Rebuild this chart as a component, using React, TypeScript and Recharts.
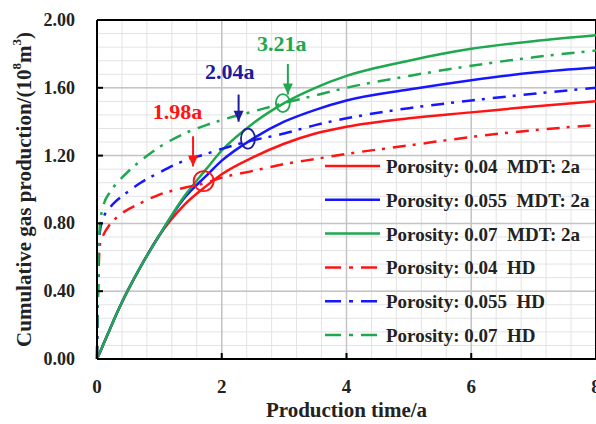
import React from "react";
import { LineChart, Line, XAxis, YAxis, CartesianGrid, ReferenceLine, ReferenceDot, Legend } from "recharts";

// production time (a)
const time = [0, 0.02, 0.05, 0.1, 0.2, 0.3, 0.4, 0.7, 1.0, 1.4, 1.75, 2.0, 2.5, 3.0, 3.5, 4, 5, 6, 7, 8];

// cumulative gas production (10^8 m3), MDT: 2a
const mdt004 = [0, 0.017, 0.042, 0.085, 0.17, 0.255, 0.335, 0.545, 0.73, 0.91, 1.02, 1.09, 1.19, 1.27, 1.33, 1.37, 1.42, 1.455, 1.49, 1.52];
const mdt0055 = [0, 0.017, 0.042, 0.085, 0.17, 0.255, 0.335, 0.545, 0.73, 0.95, 1.08, 1.17, 1.3, 1.4, 1.47, 1.525, 1.59, 1.645, 1.69, 1.72];
const mdt007 = [0, 0.017, 0.042, 0.085, 0.17, 0.255, 0.335, 0.545, 0.73, 0.96, 1.12, 1.23, 1.39, 1.51, 1.6, 1.67, 1.76, 1.83, 1.875, 1.91];

// HD
const hd004 = [0, 0.45, 0.68, 0.73, 0.79, 0.83, 0.86, 0.92, 0.97, 1.01, 1.04, 1.07, 1.11, 1.15, 1.18, 1.21, 1.26, 1.31, 1.35, 1.38];
const hd0055 = [0, 0.5, 0.76, 0.83, 0.89, 0.93, 0.96, 1.04, 1.1, 1.17, 1.21, 1.24, 1.29, 1.33, 1.38, 1.42, 1.48, 1.525, 1.565, 1.6];
const hd007 = [0, 0.55, 0.8, 0.9, 0.98, 1.03, 1.07, 1.17, 1.25, 1.33, 1.38, 1.41, 1.46, 1.51, 1.555, 1.6, 1.67, 1.73, 1.78, 1.82];

const xMajor = [0, 2, 4, 6, 8];
const xLabels = ["0", "2", "4", "6", "8"];
const yMajor = [0, 0.4, 0.8, 1.2, 1.6, 2.0];
const yLabels = ["0.00", "0.40", "0.80", "1.20", "1.60", "2.00"];

const seriesKeys = ["mdt004", "mdt0055", "mdt007", "hd004", "hd0055", "hd007"];
const seriesNames = [
  "Porosity: 0.04  MDT: 2a",
  "Porosity: 0.055  MDT: 2a",
  "Porosity: 0.07  MDT: 2a",
  "Porosity: 0.04  HD",
  "Porosity: 0.055  HD",
  "Porosity: 0.07  HD",
];

// break-even markers
const markLabels = ["1.98a", "2.04a", "3.21a"];
const markT = [1.71, 2.42, 2.98];
const markV = [1.05, 1.3, 1.51];
const arrowT = [1.54, 2.27, 3.06];
const arrowTop = [1.314, 1.56, 1.74];
const arrowTip = [1.136, 1.4, 1.56];
const labelT = [1.29, 2.13, 2.96];
const labelV = [1.414, 1.65, 1.82];

const RED = "#ff1414";
const BLUE = "#1717ff";
const GREEN = "#1fa84f";
const seriesColors = [RED, BLUE, GREEN, RED, BLUE, GREEN];
const markColors = [RED, "#1c1c9c", GREEN];
const markRx = [10, 7, 7];
const markRy = [10, 10, 9];
const DASH = "13 7 3 8";
const FONT = "'Liberation Serif', 'Times New Roman', serif";

const data = time.map((t, i) => ({
  t,
  mdt004: mdt004[i],
  mdt0055: mdt0055[i],
  mdt007: mdt007[i],
  hd004: hd004[i],
  hd0055: hd0055[i],
  hd007: hd007[i],
}));

const xMinor = Array.from({ length: 21 }, (_, i) => Math.round(i * 4) / 10);
const yMinor = Array.from({ length: 26 }, (_, i) => Math.round(i * 8) / 100);

const near = (a: number, b: number) => Math.abs(a - b) < 1e-6;

const XTick = (props: any) => {
  const { x, y, payload } = props;
  const idx = xMajor.findIndex((v) => near(v, payload.value));
  if (idx < 0) return <g />;
  return (
    <g>
      {idx > 0 && idx < xMajor.length - 1 && (
        <line x1={x} x2={x} y1={y} y2={y - 6} stroke="#000" strokeWidth={2} />
      )}
      <text x={x} y={y + 34} textAnchor="middle" fontFamily={FONT} fontWeight={700} fontSize={19} fill="#222">
        {xLabels[idx]}
      </text>
    </g>
  );
};

const YTick = (props: any) => {
  const { x, y, payload } = props;
  const idx = yMajor.findIndex((v) => near(v, payload.value));
  if (idx < 0) return <g />;
  return (
    <g>
      {idx > 0 && idx < yMajor.length - 1 && (
        <line x1={x} x2={x + 6} y1={y} y2={y} stroke="#000" strokeWidth={2} />
      )}
      <text x={x - 22} y={y + 6} textAnchor="end" fontFamily={FONT} fontWeight={700} fontSize={18} fill="#222">
        {yLabels[idx]}
      </text>
    </g>
  );
};

const YTitle = (props: any) => {
  const vb = props.viewBox;
  const cx = vb.x + 24;
  const cy = vb.y + vb.height / 2;
  return (
    <text
      x={cx}
      y={cy}
      transform={`rotate(-90 ${cx} ${cy})`}
      textAnchor="middle"
      dominantBaseline="central"
      fontFamily={FONT}
      fontWeight={700}
      fontSize={21}
      fill="#222"
    >
      Cumulative gas production/(10
      <tspan fontSize={13} dy={-8}>8</tspan>
      <tspan dy={8}>m</tspan>
      <tspan fontSize={13} dy={-8}>3</tspan>
      <tspan dy={8}>)</tspan>
    </text>
  );
};

const XTitle = (props: any) => {
  const vb = props.viewBox;
  return (
    <text x={vb.x + vb.width / 2} y={vb.y + 58} textAnchor="middle" fontFamily={FONT} fontWeight={700} fontSize={21} fill="#222">
      Production time/a
    </text>
  );
};

const LegendBox = () => (
  <svg width={278} height={200}>
    {seriesNames.map((name, i) => {
      const cy = 16 + i * 33.8;
      return (
        <g key={name}>
          <line
            x1={7}
            x2={62}
            y1={cy}
            y2={cy}
            stroke={seriesColors[i]}
            strokeWidth={2.5}
            strokeDasharray={i < 3 ? undefined : "16 8 4 8"}
          />
          <text x={68} y={cy + 7} fontFamily={FONT} fontWeight={700} fontSize={19} fill="#222" style={{ whiteSpace: "pre" }}>
            {name}
          </text>
        </g>
      );
    })}
  </svg>
);

export default function App() {
  return (
    <div style={{ position: "absolute", left: 0, top: 0, width: 596, height: 424, background: "#fff" }}>
      <LineChart width={596} height={424} data={data} margin={{ top: 20, right: 0, bottom: 0, left: 0 }}>
        <CartesianGrid stroke="#e3e3e3" strokeWidth={1} />
        {xMajor.slice(1, -1).map((v) => (
          <ReferenceLine key={"gx" + v} x={v} stroke="#c4c4c4" strokeWidth={1.5} />
        ))}
        {yMajor.slice(1, -1).map((v) => (
          <ReferenceLine key={"gy" + v} y={v} stroke="#c4c4c4" strokeWidth={1.5} />
        ))}
        <ReferenceLine y={2} stroke="#000" strokeWidth={2} />
        <ReferenceLine x={8} stroke="#000" strokeWidth={2} />
        <XAxis
          dataKey="t"
          type="number"
          domain={[0, 8]}
          ticks={xMinor}
          interval={0}
          tickSize={0}
          tickMargin={0}
          tickLine={false}
          axisLine={{ stroke: "#000", strokeWidth: 2 }}
          height={65}
          tick={<XTick />}
          label={{ content: <XTitle /> }}
        />
        <YAxis
          type="number"
          domain={[0, 2]}
          ticks={yMinor}
          interval={0}
          tickSize={0}
          tickMargin={0}
          tickLine={false}
          axisLine={{ stroke: "#000", strokeWidth: 2 }}
          width={97}
          tick={<YTick />}
          label={{ content: <YTitle /> }}
        />
        {seriesKeys.map((k, i) => (
          <Line
            key={k}
            type="monotone"
            dataKey={k}
            name={seriesNames[i]}
            stroke={seriesColors[i]}
            strokeWidth={2.5}
            strokeDasharray={i < 3 ? undefined : DASH}
            dot={false}
            isAnimationActive={false}
          />
        ))}
        {markLabels.map((lbl, i) => (
          <ReferenceLine
            key={"ar" + lbl}
            segment={[
              { x: arrowT[i], y: arrowTop[i] },
              { x: arrowT[i], y: arrowTip[i] },
            ]}
            stroke={markColors[i]}
            strokeWidth={2}
          />
        ))}
        {markLabels.map((lbl, i) => (
          <ReferenceDot
            key={"tip" + lbl}
            x={arrowT[i]}
            y={arrowTip[i]}
            r={5}
            shape={(p: any) => (
              <polygon
                points={`${p.cx - 5},${p.cy - 11} ${p.cx + 5},${p.cy - 11} ${p.cx},${p.cy}`}
                fill={markColors[i]}
              />
            )}
          />
        ))}
        {markLabels.map((lbl, i) => (
          <ReferenceDot
            key={"c" + lbl}
            x={markT[i]}
            y={markV[i]}
            r={10}
            shape={(p: any) => (
              <ellipse cx={p.cx} cy={p.cy} rx={markRx[i]} ry={markRy[i]} fill="none" stroke={markColors[i]} strokeWidth={1.8} />
            )}
          />
        ))}
        {markLabels.map((lbl, i) => (
          <ReferenceDot
            key={"l" + lbl}
            x={labelT[i]}
            y={labelV[i]}
            r={1}
            shape={(p: any) => (
              <text x={p.cx} y={p.cy} textAnchor="middle" fontFamily={FONT} fontWeight={700} fontSize={22} fill={markColors[i]}>
                {lbl}
              </text>
            )}
          />
        ))}
        <Legend
          layout="horizontal"
          verticalAlign="middle"
          align="center"
          wrapperStyle={{ position: "absolute", left: 318, top: 150, width: 278, height: 200 }}
          content={<LegendBox />}
        />
      </LineChart>
    </div>
  );
}
